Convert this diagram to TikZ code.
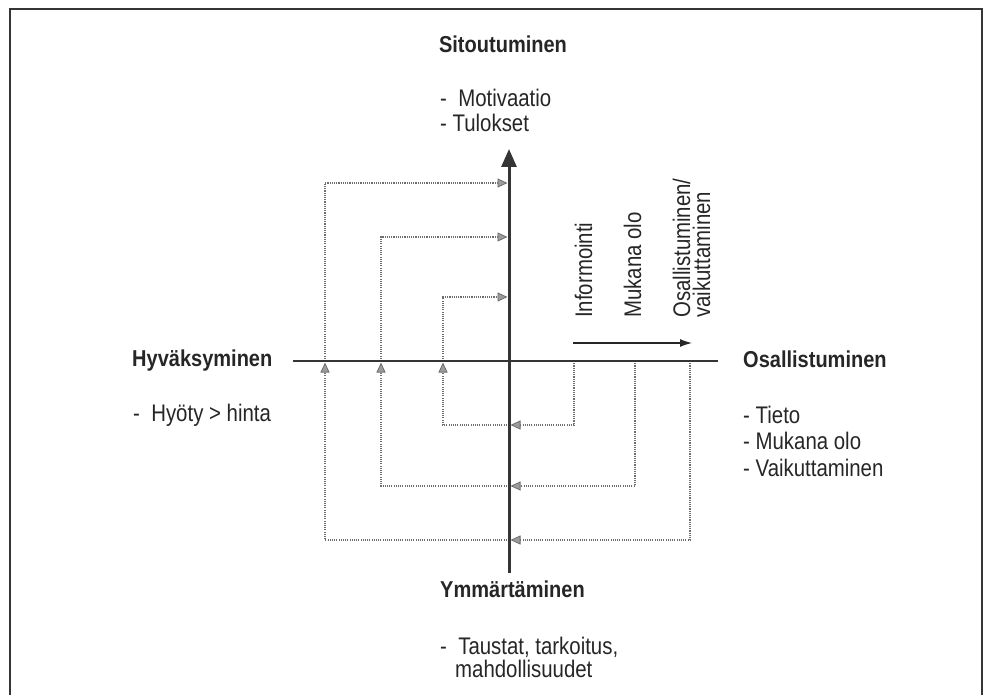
\documentclass[tikz,border=0pt]{standalone}
\usepackage{fontspec}
\setmainfont{Liberation Sans}[FakeStretch=0.85]
\newfontfamily\headfont{Liberation Sans}[FakeStretch=0.87]
\usetikzlibrary{arrows.meta}

\definecolor{ink}{HTML}{262626}
\definecolor{axisc}{HTML}{353535}
\definecolor{dotc}{HTML}{6E6E6E}
\definecolor{tipfill}{HTML}{9C9C9C}

\begin{document}
\begin{tikzpicture}[x=1pt,y=-1pt,
  head/.style={font=\headfont\bfseries\fontsize{23}{26}\selectfont, text=ink, inner sep=0pt},
  body/.style={font=\fontsize{24}{28}\selectfont, text=ink, inner sep=0pt},
  loopline/.style={dotc, line width=1.1pt, dash pattern=on 1.1pt off 1.1pt},
  looptip/.style={-{Triangle[length=10pt,width=9pt,color=dotc,fill=tipfill,line width=0.8pt]}, shorten >=1.5pt},
  axisline/.style={axisc, line width=3pt},
]
\useasboundingbox (0,0) rectangle (983,695);
\clip (0,0) rectangle (983,695);

% outer frame
\draw[axisc, line width=1.6pt] (10,720) -- (10,9) -- (982,9) -- (982,720);

% three feedback loops: right leg down, bottom to the axis, left leg up, top to the axis
\foreach \n/\xl/\xr/\yt/\yb in {a/325/690/183/540, b/381/635/237/486, c/443/574/297/425} {
  \coordinate (r\n) at (\xr,361);
  \coordinate (bm\n) at (509,\yb);
  \coordinate (lm\n) at (\xl,361);
  \coordinate (tm\n) at (509,\yt);
  \draw[loopline, looptip] (r\n) |- (bm\n);
  \draw[loopline, looptip] (bm\n) -| (lm\n);
  \draw[loopline, looptip] (lm\n) |- (tm\n);
}

% axes
\coordinate (vbot) at (509,573);
\coordinate (vtop) at (509,149);
\coordinate (hl) at (293,361);
\coordinate (hr) at (718,361);
\draw[axisline, -{Triangle[length=18pt,width=15pt]}] (vbot) -- (vtop);
\draw[axisc, line width=2.6pt] (hl) -- (hr);

% participation scale arrow
\coordinate (sl) at (573,343);
\coordinate (sr) at (692,343);
\draw[ink, line width=1.2pt, -{Latex[length=12pt,width=8pt]}] (sl) -- (sr);

% scale labels
\node[body, rotate=90, anchor=base west] (inf) at (592,318) {Informointi};
\node[body, rotate=90, anchor=base west] (muk) at (641,318) {Mukana olo};
\node[body, rotate=90, anchor=base west] (osv1) at (690,318) {Osallistuminen/};
\node[body, rotate=90, anchor=base west] (osv2) at (710,318) {vaikuttaminen};

% top
\node[head, anchor=base] (sit) at (503,53) {Sitoutuminen};
\node[body, anchor=base west] (mot) at (440,107) {-\ \ Motivaatio};
\node[body, anchor=base west] (tul) at (440,132) {- Tulokset};

% left
\node[head, anchor=base west] (hyv) at (132,366) {Hyväksyminen};
\node[body, anchor=base west] (hyo) at (133,421) {-\ \ Hyöty > hinta};

% right
\node[head, anchor=base west] (osa) at (743,367) {Osallistuminen};
\node[body, anchor=base west] (tie) at (743,423) {- Tieto};
\node[body, anchor=base west] (mol) at (743,449) {- Mukana olo};
\node[body, anchor=base west] (vai) at (743,476) {- Vaikuttaminen};

% bottom
\node[head, anchor=base west] (ymm) at (440,597) {Ymmärtäminen};
\node[body, anchor=base west] (tau) at (440,654) {-\ \ Taustat, tarkoitus,};
\node[body, anchor=base west] (mah) at (455,677) {mahdollisuudet};
\end{tikzpicture}
\end{document}
